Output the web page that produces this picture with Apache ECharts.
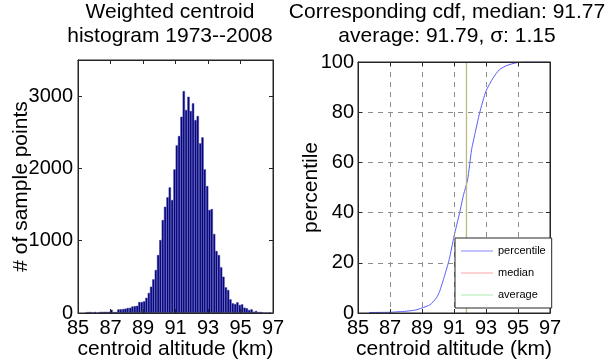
<!DOCTYPE html>
<html>
<head>
<meta charset="utf-8">
<script src="https://cdn.jsdelivr.net/npm/echarts@6/dist/echarts.min.js"></script>
<style>
  html, body { margin: 0; padding: 0; background: #fff; }
  #main { width: 614px; height: 360px; }
</style>
</head>
<body>
<div id="main"></div>
<script>
// histogram bin centres (km) and counts
var binCenters = [
  85.48, 85.62, 85.77, 85.91, 86.05, 86.20, 86.34, 86.48, 86.63, 86.77,
  86.92, 87.06, 87.20, 87.35, 87.49, 87.63, 87.78, 87.92, 88.06, 88.21,
  88.35, 88.50, 88.64, 88.78, 88.93, 89.07, 89.21, 89.36, 89.50, 89.64,
  89.79, 89.93, 90.07, 90.22, 90.36, 90.51, 90.65, 90.79, 90.94, 91.08,
  91.22, 91.37, 91.51, 91.65, 91.80, 91.94, 92.08, 92.23, 92.37, 92.52,
  92.66, 92.80, 92.95, 93.09, 93.23, 93.38, 93.52, 93.67, 93.81, 93.95,
  94.10, 94.24, 94.38, 94.53, 94.67, 94.81, 94.96, 95.10, 95.25, 95.39,
  95.53, 95.68, 95.82, 95.96, 96.11, 96.25, 96.40, 96.54, 96.68, 96.83
];
var binCounts = [
  0, 14, 14, 5, 14, 5, 14, 17, 17, 17,
  17, 45, 14, 14, 50, 52, 55, 60, 70, 72,
  90, 95, 100, 152, 152, 161, 210, 278, 364, 466,
  595, 802, 1010, 1286, 1470, 1600, 1738, 1563, 1987, 2319,
  2448, 2715, 3070, 2808, 2992, 2794, 2900, 2669, 2725, 2347,
  2430, 1987, 1756, 1425, 1438, 1093, 858, 802, 632, 502,
  355, 318, 189, 134, 124, 148, 111, 120, 74, 65,
  41, 51, 18, 28, 14, 14, 5, 0, 0, 8
];

// cumulative distribution (percent)
var cdfAlt = [85.7, 87.0, 88.0, 88.6, 89.0, 89.5, 89.9, 90.1, 90.4, 90.7, 91.0, 91.35, 91.6, 91.85, 92.1, 92.3, 92.6, 93.0, 93.45, 93.85, 94.3, 94.9, 95.5, 97.0];
var cdfPct = [0.2, 0.3, 0.7, 1.2, 2.0, 3.3, 6.0, 8.6, 14.6, 21.3, 30.5, 39.9, 47.2, 53.0, 65.1, 71.1, 79.7, 88.4, 93.7, 97.0, 98.6, 99.7, 100, 100];

var medianAlt = 91.77;
var averageAlt = 91.79;
var sigmaAlt = 1.15;

var FONT = 'Liberation Sans';
var BOX = '#262626';

var histData = binCenters.map(function (x, i) { return [x, binCounts[i]]; });
var cdfData = cdfAlt.map(function (x, i) { return [x, cdfPct[i]]; });

// one axis of the box round a plot; extra keys override the defaults
function boxAxis(gridIndex, position, min, max, interval, extra) {
  var ax = {
    type: 'value',
    show: true,
    z: 5,
    gridIndex: gridIndex,
    position: position,
    min: min,
    max: max,
    interval: interval,
    axisLine: { show: true, onZero: false, lineStyle: { color: BOX, width: 1 } },
    axisTick: { show: true, inside: true, length: 4, lineStyle: { color: BOX } },
    axisLabel: { show: false },
    splitLine: { show: false },
    nameMoveOverlap: false
  };
  for (var k in extra) ax[k] = extra[k];
  return ax;
}

var nameStyle = { fontFamily: FONT, fontSize: 21, color: '#000' };
var dashed = { show: true, lineStyle: { color: '#8c8c8c', type: [5, 5], width: 1 } };
function plain(v) { return String(v); }

var chart = echarts.init(document.getElementById('main'), null, { renderer: 'canvas' });

var option = {
  animation: false,
  backgroundColor: '#fff',
  title: [
    {
      text: 'Weighted centroid\nhistogram 1973--2008',
      left: 170, top: 0, padding: 0, textAlign: 'center',
      textStyle: { fontFamily: FONT, fontSize: 21, fontWeight: 'normal', color: '#000', lineHeight: 24 }
    },
    {
      text: 'Corresponding cdf, median: ' + medianAlt + '\naverage: ' + averageAlt + ', \u03c3: ' + sigmaAlt,
      left: 447, top: 0, padding: 0, textAlign: 'center',
      textStyle: { fontFamily: FONT, fontSize: 21, fontWeight: 'normal', color: '#000', lineHeight: 24 }
    }
  ],
  // the grid outline draws the box; its fill stays see-through
  grid: [
    { left: 78, right: 341, top: 60, bottom: 47, outerBoundsMode: 'none', containLabel: false,
      show: true, z: 4, borderColor: BOX, borderWidth: 1, backgroundColor: 'rgba(255,255,255,0)' },
    { left: 358, right: 64, top: 62, bottom: 47, outerBoundsMode: 'none', containLabel: false,
      show: true, z: 4, borderColor: BOX, borderWidth: 1, backgroundColor: 'rgba(255,255,255,0)' }
  ],
  xAxis: [
    boxAxis(0, 'bottom', 85, 97, 2, {
      axisLabel: { show: true, margin: 5, fontFamily: FONT, fontSize: 20, color: '#000', formatter: plain },
      name: 'centroid altitude (km)', nameLocation: 'middle', nameGap: 26,
      nameTextStyle: nameStyle
    }),
    boxAxis(0, 'top', 85, 97, 2, {}),
    boxAxis(1, 'bottom', 85, 97, 2, {
      axisLabel: { show: true, margin: 5, fontFamily: FONT, fontSize: 20, color: '#000', formatter: plain },
      splitLine: dashed,
      name: 'centroid altitude (km)', nameLocation: 'middle', nameGap: 26,
      nameTextStyle: nameStyle
    }),
    boxAxis(1, 'top', 85, 97, 2, {})
  ],
  yAxis: [
    boxAxis(0, 'left', 0, 3500, 1000, {
      axisLabel: { show: true, margin: 5, showMaxLabel: false, fontFamily: FONT, fontSize: 20, color: '#000', formatter: plain },
      name: '# of sample points', nameLocation: 'middle', nameGap: 46,
      nameTextStyle: nameStyle
    }),
    boxAxis(0, 'right', 0, 3500, 1000, {}),
    boxAxis(1, 'left', 0, 100, 20, {
      axisLabel: { show: true, margin: 4, fontFamily: FONT, fontSize: 20, color: '#000', formatter: plain },
      splitLine: dashed,
      name: 'percentile', nameLocation: 'middle', nameGap: 36,
      nameTextStyle: nameStyle
    }),
    boxAxis(1, 'right', 0, 100, 20, {})
  ],
  legend: {
    orient: 'vertical',
    left: 455,
    top: 238,
    z: 6,
    padding: [6, 6, 6, 6],
    itemGap: 8,
    itemWidth: 32,
    itemHeight: 1,
    icon: 'rect',
    backgroundColor: '#fff',
    borderColor: BOX,
    borderWidth: 1,
    borderRadius: 0,
    selectedMode: false,
    textStyle: { fontFamily: FONT, fontSize: 11, color: '#000', lineHeight: 14 },
    data: [
      { name: 'percentile', itemStyle: { color: '#8484ff' } },
      { name: 'median', itemStyle: { color: '#ffa4a4' } },
      { name: 'average', itemStyle: { color: '#ace8ac' } }
    ]
  },
  series: [
    {
      type: 'bar',
      xAxisIndex: 0, yAxisIndex: 0,
      data: histData,
      barWidth: 2.3,
      itemStyle: { color: '#000080', borderColor: '#3c3c9c', borderWidth: 0.5 },
      silent: true
    },
    { type: 'line', xAxisIndex: 1, yAxisIndex: 1, data: [], silent: true },
    { type: 'line', xAxisIndex: 3, yAxisIndex: 3, data: [], silent: true },
    {
      name: 'percentile',
      type: 'line',
      xAxisIndex: 2, yAxisIndex: 2,
      data: cdfData,
      smooth: 0.2,
      symbol: 'none',
      lineStyle: { color: '#5a5aff', width: 1 },
      itemStyle: { color: '#5a5aff' },
      silent: true
    },
    {
      name: 'median',
      type: 'line',
      xAxisIndex: 2, yAxisIndex: 2,
      data: [[medianAlt, 0], [medianAlt, 100]],
      symbol: 'none',
      lineStyle: { color: '#e89090', width: 1 },
      itemStyle: { color: '#e89090' },
      silent: true
    },
    {
      name: 'average',
      type: 'line',
      xAxisIndex: 2, yAxisIndex: 2,
      data: [[averageAlt, 0], [averageAlt, 100]],
      symbol: 'none',
      lineStyle: { color: '#a6c47a', width: 1 },
      itemStyle: { color: '#a6c47a' },
      silent: true
    }
  ]
};

chart.setOption(option);
</script>
</body>
</html>
